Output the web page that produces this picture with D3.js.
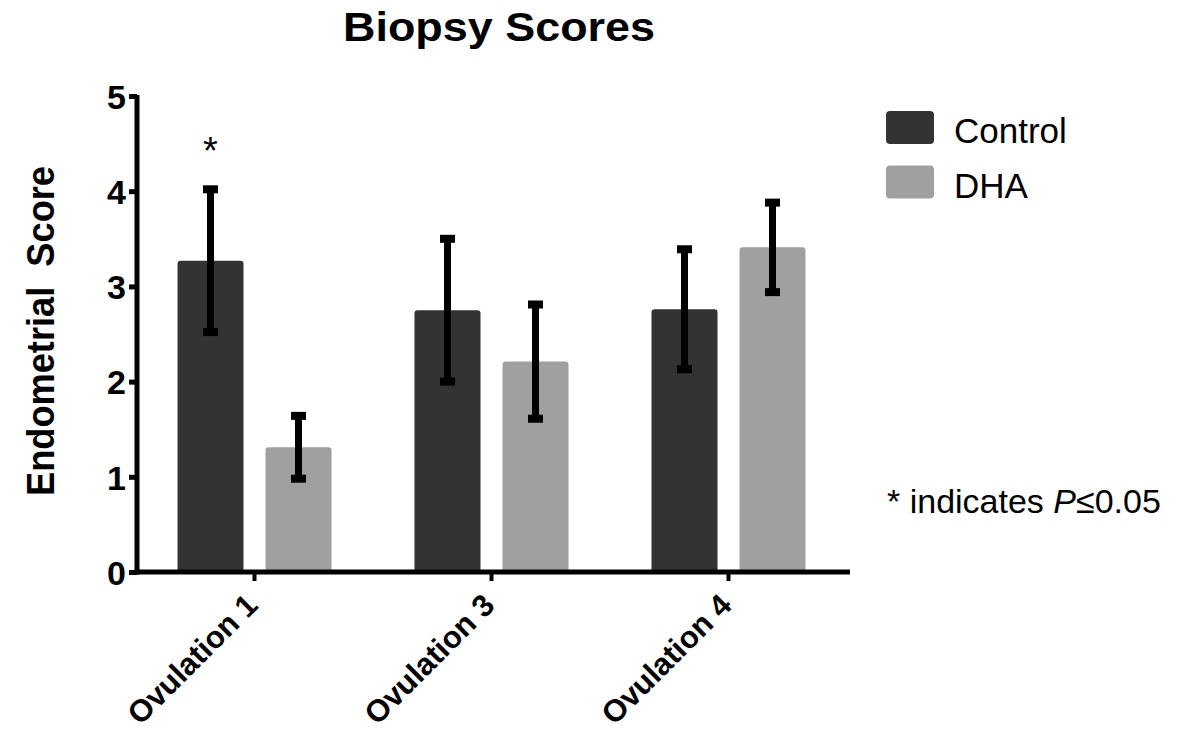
<!DOCTYPE html>
<html><head><meta charset="utf-8">
<script src="https://cdn.jsdelivr.net/npm/d3@7"></script>
<style>body{margin:0;background:#fff}text{font-family:"Liberation Sans",Arial,sans-serif}</style>
</head><body>
<svg id="c" width="1187" height="739"></svg>
<script>
const categories = ["Ovulation 1", "Ovulation 3", "Ovulation 4"];
const seriesNames = ["Control", "DHA"];
const controlMeans = [3.27, 2.75, 2.76];
const controlErrors = [0.75, 0.75, 0.63];
const dhaMeans = [1.31, 2.21, 3.41];
const dhaErrors = [0.33, 0.6, 0.47];
const yTicks = [0, 1, 2, 3, 4, 5];
const colors = ["#333333", "#a0a0a0"];
const significant = [true, false, false];

const svg = d3.select("#c");
const x0 = d3.scaleBand().domain(categories).range([136, 847]).paddingInner(0).paddingOuter(0);
const x1 = d3.scaleBand().domain(seriesNames).range([41.5, 237 - 41.5]).paddingInner(0.25);
const y = d3.scaleLinear().domain([0, 5]).range([572, 96]);

const rows = categories.map((c, i) => ({
  cat: c,
  vals: [
    {s: "Control", m: controlMeans[i], e: controlErrors[i], col: colors[0]},
    {s: "DHA", m: dhaMeans[i], e: dhaErrors[i], col: colors[1]}
  ]
}));

// bars
const g = svg.append("g");
rows.forEach(r => {
  r.vals.forEach(v => {
    const bx = x0(r.cat) + x1(v.s), bw = x1.bandwidth();
    const top = y(v.m), bot = y(0), rr = 3;
    g.append("path")
      .attr("d", `M${bx},${bot}V${top + rr}Q${bx},${top} ${bx + rr},${top}H${bx + bw - rr}Q${bx + bw},${top} ${bx + bw},${top + rr}V${bot}Z`)
      .attr("fill", v.col);
    const cx = bx + bw / 2;
    g.append("line").attr("x1", cx).attr("x2", cx).attr("y1", y(v.m + v.e)).attr("y2", y(v.m - v.e))
      .attr("stroke", "#000").attr("stroke-width", 7);
    [v.m + v.e, v.m - v.e].forEach(val => {
      g.append("rect").attr("x", cx - 7.5).attr("width", 15).attr("y", y(val) - 4).attr("height", 8).attr("fill", "#000");
    });
  });
});

// significance
categories.forEach((c, i) => {
  if (significant[i]) {
    svg.append("text").attr("x", x0(c) + x1("Control") + x1.bandwidth() / 2).attr("y", 164)
      .attr("text-anchor", "middle").attr("font-size", 38).text("*");
  }
});

// y axis
const yAxis = svg.append("g").attr("transform", "translate(137,0)")
  .call(d3.axisLeft(y).tickValues(yTicks).tickFormat(d3.format("d")).tickSize(8).tickPadding(3));
yAxis.select(".domain").attr("stroke-width", 5).attr("d", `M0,${y(5) - 1}V${y(0) + 2.5}`);
yAxis.selectAll(".tick line").attr("stroke-width", 5);
yAxis.selectAll(".tick text").attr("font-size", 34).attr("font-weight", "bold").attr("fill", "#000").attr("dy", "0.36em");

// x axis
const xAxis = svg.append("g").attr("transform", `translate(0,${y(0)})`)
  .call(d3.axisBottom(x0).tickSize(9).tickFormat(""));
xAxis.select(".domain").attr("stroke-width", 5).attr("d", `M134.5,0H850`);
xAxis.selectAll(".tick line").attr("stroke-width", 4);
categories.forEach(c => {
  const cx = x0(c) + x0.bandwidth() / 2;
  svg.append("text")
    .attr("transform", `translate(${cx + 5},${607}) rotate(-45)`)
    .attr("text-anchor", "end").attr("font-size", 31).attr("font-weight", "bold").text(c);
});

// title
svg.append("text").attr("x", 343).attr("y", 41)
  .attr("font-size", 41).attr("font-weight", "bold")
  .attr("textLength", 312).attr("lengthAdjust", "spacingAndGlyphs").text("Biopsy Scores");

// y label
svg.append("text").attr("transform", "translate(54,496) rotate(-90)")
  .attr("font-size", 38).attr("font-weight", "bold").attr("xml:space", "preserve")
  .attr("textLength", 330).attr("lengthAdjust", "spacingAndGlyphs").text("Endometrial  Score");

// legend
seriesNames.forEach((s, i) => {
  const ly = 111 + i * 54.5;
  svg.append("rect").attr("x", 886).attr("y", ly).attr("width", 48).attr("height", 33).attr("rx", 4).attr("fill", colors[i]);
  svg.append("text").attr("x", 954).attr("y", ly + 32).attr("font-size", 35).text(s);
});

// note
const note = svg.append("text").attr("x", 887).attr("y", 513).attr("font-size", 34);
note.append("tspan").text("* indicates ");
note.append("tspan").attr("font-style", "italic").text("P");
note.append("tspan").text("≤0.05");
</script>
</body></html>
